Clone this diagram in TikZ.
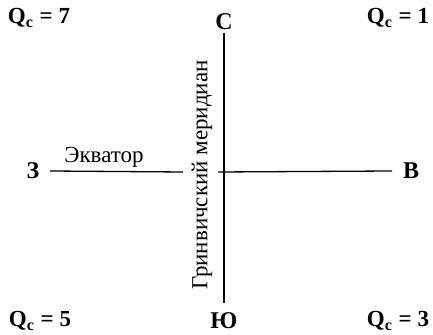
\documentclass[tikz,border=0pt]{standalone}
\usepackage{fontspec}
\setmainfont{Liberation Serif}
\usetikzlibrary{positioning}
\tikzset{
  quad/.style={font=\fontsize{11.5}{14}\selectfont\bfseries,inner sep=1pt},
  side/.style={font=\fontsize{12}{14}\selectfont\bfseries,inner sep=1pt},
  circle label/.style={font=\fontsize{11.5}{14}\selectfont,inner sep=1pt},
  axis/.style={draw=black,line width=0.65pt}
}
\begin{document}
\begin{tikzpicture}[x=0.5pt,y=-0.5pt]
  \useasboundingbox (0,0) rectangle (433,335);
  % quarters
  \node[quad] (q7) at (39,18) {Q\textsubscript{c} = 7};
  \node[quad] (q1) at (398,18) {Q\textsubscript{c} = 1};
  \node[quad] (q5) at (40,321) {Q\textsubscript{c} = 5};
  \node[quad] (q3) at (398,321) {Q\textsubscript{c} = 3};
  % cardinal points
  \node[side] (n) at (224,22) {С};
  \node[side] (s) at (224,321) {Ю};
  \node[side] (w) at (33,171) {З};
  \node[side] (e) at (411,171) {В};
  \coordinate (wend) at (183,172);
  \coordinate (eend) at (218,172);
  \draw[axis] (n.south |- 0,33) -- (s.north |- 0,303);
  \draw[axis] (w.east -| 50,0) -- (wend);
  \draw[axis] (eend) -- (e.west -| 392,0);
  % labels
  \node[circle label] (eq) at (104,157) {Экватор};
  \node[circle label,rotate=90] (mer) at (202,175) {Гринвичский меридиан};
\end{tikzpicture}
\end{document}
